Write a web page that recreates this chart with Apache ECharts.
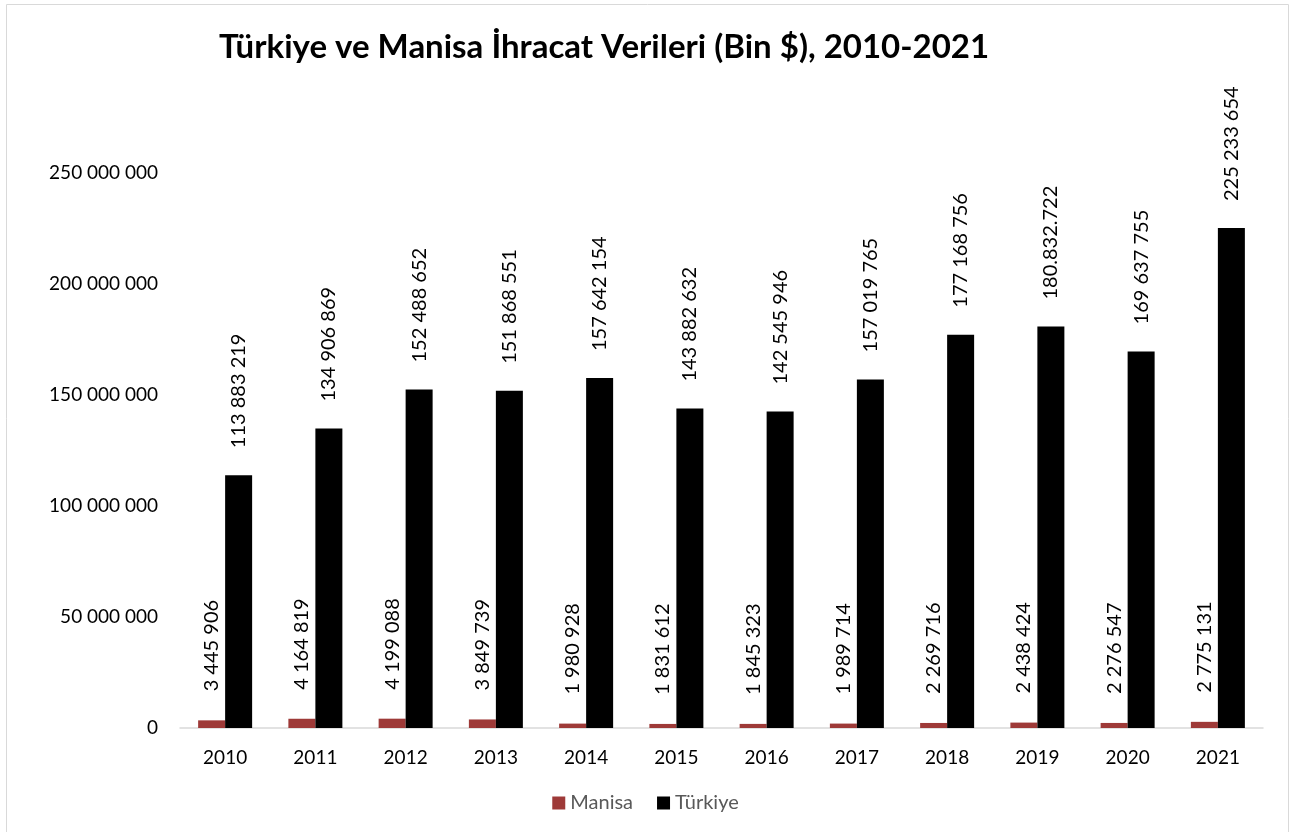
<!DOCTYPE html>
<html lang="tr">
<head>
<meta charset="UTF-8">
<title>Türkiye ve Manisa İhracat Verileri</title>
<script src="https://cdn.jsdelivr.net/npm/echarts@6/dist/echarts.min.js"></script>
<style>
    *{ margin:0; padding:0; }
    html,body{ width:100%; height:100%; background:#fff; }
    #chart{ width:1291px; height:832px; }
</style>
</head>
<body>
<div id="chart"></div>
<script>
// data
const years = ['2010','2011','2012','2013','2014','2015','2016','2017','2018','2019','2020','2021'];
const manisa = [3445906, 4164819, 4199088, 3849739, 1980928, 1831612, 1845323, 1989714, 2269716, 2438424, 2276547, 2775131];
const turkiye = [113883219, 134906869, 152488652, 151868551, 157642154, 143882632, 142545946, 157019765, 177168756, 180832722, 169637755, 225233654];
// label texts as printed (2019 uses dots in the original)
const manisaLabels = ['3 445 906','4 164 819','4 199 088','3 849 739','1 980 928','1 831 612','1 845 323','1 989 714','2 269 716','2 438 424','2 276 547','2 775 131'];
const turkiyeLabels = ['113 883 219','134 906 869','152 488 652','151 868 551','157 642 154','143 882 632','142 545 946','157 019 765','177 168 756','180.832.722','169 637 755','225 233 654'];

const font = 'Lato, "Open Sans", sans-serif';

function spaced(v){
    return String(v).replace(/\B(?=(\d{3})+(?!\d))/g, ' ');
}

let chart = echarts.init(document.getElementById('chart'));
chart.setOption({
    animation:false,
    textStyle:{ fontFamily:font },
    graphic:[{
        type:'rect',
        shape:{ x:6.5, y:4.5, width:1282, height:840 },
        style:{ fill:'none', stroke:'#d9d9d9', lineWidth:1 },
        silent:true
    }],
    title:{
        text:'Türkiye ve Manisa İhracat Verileri (Bin $), 2010-2021',
        left:599,
        textAlign:'center',
        top:26,
        textStyle:{ fontSize:33, fontWeight:'bold', color:'#000', fontFamily:font }
    },
    legend:{
        bottom:14,
        left:'center',
        itemWidth:13,
        itemHeight:13,
        itemGap:24,
        itemTextGap:6,
        icon:'rect',
        textStyle:{ fontSize:20, color:'#595959', fontFamily:font },
        data:['Manisa','Türkiye']
    },
    grid:{ left:180, right:28, top:173, bottom:104, containLabel:false },
    xAxis:{
        type:'category',
        data:years,
        axisLine:{ lineStyle:{ color:'#d9d9d9', width:1.5 } },
        axisTick:{ show:false },
        axisLabel:{ fontSize:19, color:'#000', margin:20 }
    },
    yAxis:{
        type:'value',
        min:0,
        max:250000000,
        interval:50000000,
        splitLine:{ show:false },
        axisLine:{ show:false },
        axisTick:{ show:false },
        axisLabel:{ fontSize:19, color:'#000', margin:22, formatter:spaced }
    },
    series:[
        {
            name:'Manisa',
            type:'bar',
            data:manisa,
            barWidth:27,
            barGap:'0%',
            itemStyle:{ color:'#9e3a38' },
            label:{
                show:true,
                position:'top',
                rotate:90,
                align:'left',
                verticalAlign:'middle',
                distance:29,
                fontSize:20,
                color:'#000',
                formatter:p => manisaLabels[p.dataIndex]
            }
        },
        {
            name:'Türkiye',
            type:'bar',
            data:turkiye,
            barWidth:27,
            barGap:'0%',
            itemStyle:{ color:'#000' },
            label:{
                show:true,
                position:'top',
                rotate:90,
                align:'left',
                verticalAlign:'middle',
                distance:27,
                fontSize:20,
                color:'#000',
                formatter:p => turkiyeLabels[p.dataIndex]
            }
        }
    ]
});
</script>
</body>
</html>
